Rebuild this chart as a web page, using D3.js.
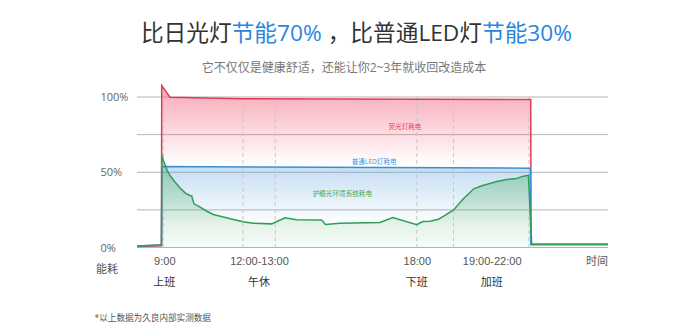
<!DOCTYPE html>
<html><head><meta charset="utf-8">
<script src="https://cdn.jsdelivr.net/npm/d3@7"></script>
<style>
html,body{margin:0;padding:0;background:#fff;}
svg{display:block;font-family:"Open Sans","Noto Sans CJK SC",sans-serif;}
</style></head>
<body>
<svg id="chart" width="692" height="330"></svg>
<script>
// x positions are in an abstract timeline unit (0..100) across the plot
const redSeries = [[0,0.6],[5.2,1.2],[5.25,107.6],[7.0,99.8],[22.5,98.8],[83.6,98.3],[83.65,2],[100,2]];
const blueSeries = [[0,1],[5.2,1.5],[5.3,53.8],[40,53.3],[83.5,52.7],[83.6,2],[100,2]];
const greenSeries = [[0,1],[5.2,1.8],[5.25,61.8],[5.6,57.8],[6.4,51.3],[7.0,47.8],[8.1,43.4],[9.1,39.7],[10.2,36.3],[11.2,34.6],[11.6,34.4],[12.1,29],[13.4,26.8],[14.8,24.1],[16.2,21.9],[19.8,19.1],[22.5,17.1],[24.7,16.1],[28.6,15.7],[31.4,19.7],[33.9,18.4],[39.2,18.2],[40.0,15.3],[43.1,16.1],[51.6,16.6],[54.3,19.9],[59.4,15.2],[60.7,17.3],[62.2,17.5],[64.0,18.8],[65.4,21.3],[67.2,25],[69.3,32.4],[71.5,39],[73.2,41],[76.4,43.9],[78.5,45.2],[80.6,45.8],[82.0,47.4],[83.1,48],[83.8,2.2],[100,2.2]];
const yTicks = [0,25,50,75,100];
const yTickLabels = ["0%","","50%","","100%"];
const timeMarks = [5.58,22.5,29.36,59.4,67.2,83.2];
const xLabelPos = [5.8,25.9,59.4,75.3];
const xLabels = ["9:00","12:00-13:00","18:00","19:00-22:00"];
const periodLabels = ["上班","午休","下班","加班"];
const seriesNames = ["荧光灯耗电","普通LED灯耗电","护眼光环境系统耗电"];
const seriesLabelAt = [[53.4,78.7],[45.6,55.5],[37.3,34.5]];

const svg = d3.select("#chart");
const x = d3.scaleLinear().domain([0,100]).range([137,608]);
const y = d3.scaleLinear().domain([0,100]).range([247.5,97]);

// title
const title = svg.append("text").attr("x",356.5).attr("y",41).attr("text-anchor","middle")
  .attr("font-size",22.7).attr("fill","#333");
title.append("tspan").text("比日光灯");
title.append("tspan").attr("fill","#2a86e0").text("节能70%");
title.append("tspan").text(" ，比普通LED灯");
title.append("tspan").attr("fill","#2a86e0").text("节能30%");
svg.append("text").attr("x",344).attr("y",72).attr("text-anchor","middle")
  .attr("font-size",12).attr("fill","#777").text("它不仅仅是健康舒适，还能让你2~3年就收回改造成本");

// gradients
const defs = svg.append("defs");
function grad(id,color,v1,v2,o1,o2){
  const g = defs.append("linearGradient").attr("id",id).attr("gradientUnits","userSpaceOnUse")
    .attr("x1",0).attr("x2",0).attr("y1",y(v1)).attr("y2",y(v2));
  g.append("stop").attr("offset",0).attr("stop-color",color).attr("stop-opacity",o1);
  g.append("stop").attr("offset",1).attr("stop-color",color).attr("stop-opacity",o2);
}
grad("gRed","#f05570",100,55,0.45,0);
grad("gBlue","#4a95d8",54,15,0.32,0);
grad("gGreen","#3aa655",62,0,0.42,0.04);

// grid
svg.append("g").selectAll("line").data(yTicks).join("line")
  .attr("x1",x(0)).attr("x2",x(100)).attr("y1",d=>y(d)).attr("y2",d=>y(d))
  .attr("stroke","#b5b5b5").attr("stroke-width",1);
svg.append("g").selectAll("text").data(yTicks).join("text")
  .attr("x",100.5).attr("y",(d)=>y(d)+4).attr("font-size",11).attr("fill","#666")
  .text((d,i)=>yTickLabels[i]);

const area = d3.area().x(d=>x(d[0])).y0(y(0)).y1(d=>y(d[1]));
const line = d3.line().x(d=>x(d[0])).y(d=>y(d[1]));

svg.append("path").datum(redSeries).attr("d",area).attr("fill","url(#gRed)");
svg.append("path").datum(blueSeries).attr("d",area).attr("fill","url(#gBlue)");
svg.append("path").datum(greenSeries).attr("d",area).attr("fill","url(#gGreen)");

// dashed time marks
svg.append("g").selectAll("line").data(timeMarks).join("line")
  .attr("x1",d=>x(d)).attr("x2",d=>x(d)).attr("y1",y(100)).attr("y2",y(0))
  .attr("stroke","#c8c8c8").attr("stroke-width",1).attr("stroke-dasharray","4,3");

svg.append("path").datum(redSeries).attr("d",line).attr("fill","none").attr("stroke","#e23a55").attr("stroke-width",1.5);
svg.append("path").datum(blueSeries).attr("d",line).attr("fill","none").attr("stroke","#3a8fd8").attr("stroke-width",1.5);
svg.append("path").datum(greenSeries).attr("d",line).attr("fill","none").attr("stroke","#2e9e55").attr("stroke-width",1.5);

const labelColors = ["#e8405a","#3d98e6","#4aaa55"];
svg.append("g").selectAll("text").data(seriesNames).join("text")
  .attr("x",(d,i)=>x(seriesLabelAt[i][0])).attr("y",(d,i)=>y(seriesLabelAt[i][1]))
  .attr("font-size",6.6).attr("fill",(d,i)=>labelColors[i]).text(d=>d);

// x axis labels
const xAxis = d3.axisBottom(x).tickValues(xLabelPos).tickFormat((d,i)=>xLabels[i]).tickSize(0).tickPadding(0);
const ax = svg.append("g").attr("transform",`translate(0,${257})`).call(xAxis);
ax.select(".domain").remove();
ax.selectAll("text").attr("font-size",11).attr("fill","#555").attr("font-family",null).attr("dy","0.72em");
svg.append("g").selectAll("text").data(periodLabels).join("text")
  .attr("x",(d,i)=>x(xLabelPos[i])).attr("y",286).attr("text-anchor","middle")
  .attr("font-size",11).attr("fill","#333").text(d=>d);
svg.append("text").attr("x",x(100)).attr("y",265).attr("text-anchor","end").attr("font-size",11).attr("fill","#555").text("时间");
svg.append("text").attr("x",107).attr("y",272.5).attr("text-anchor","middle").attr("font-size",11).attr("fill","#555").text("能耗");
svg.append("text").attr("x",94.5).attr("y",321).attr("font-size",8.6).attr("fill","#555").text("*以上数据为久良内部实测数据");
</script>
</body></html>
